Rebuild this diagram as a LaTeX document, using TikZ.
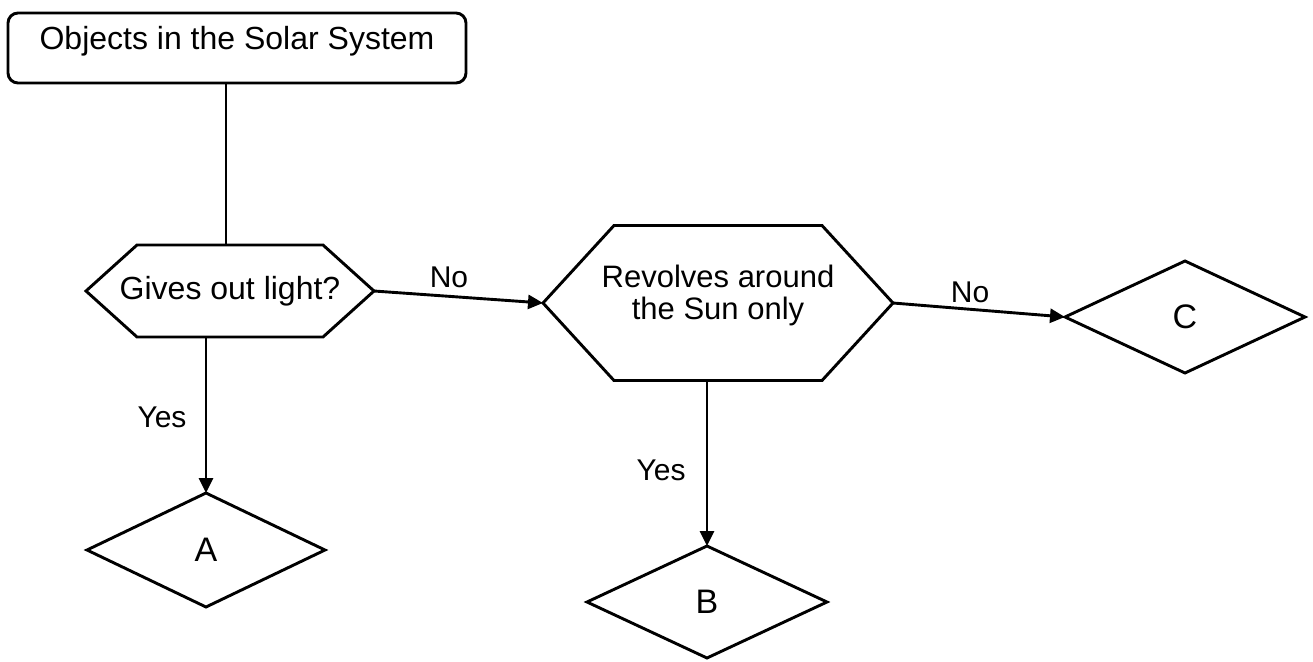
\documentclass[tikz,border=0pt]{standalone}
\usepackage{fontspec}
\setmainfont{Liberation Sans}
\usetikzlibrary{arrows.meta,shapes.geometric,calc}
\begin{document}
\begin{tikzpicture}[x=1pt,y=-1pt,
  every node/.style={inner sep=0pt, outer sep=0pt},
  outline/.style={draw=black, line width=2.9pt, line join=miter},
  titlebox/.style={outline, rectangle, rounded corners=10pt, minimum width=458pt, minimum height=70pt,
    font=\fontsize{32}{38}\selectfont, text height=23pt, text depth=20pt},
  hexbox/.style={rectangle, font=\fontsize{32}{38}\selectfont},
  leaf/.style={outline, diamond, font=\fontsize{34}{40}\selectfont},
  conn/.style={line width=2.9pt, -{Triangle[length=15pt,width=14pt]}},
  plainconn/.style={line width=2.9pt},
  lbl/.style={font=\fontsize{30}{36}\selectfont},
]
\fill[white] (0,0) rectangle (1313,661);
\useasboundingbox (0,0) rectangle (1313,661);

% nodes
\node[titlebox] (title) at (237,48) {Objects in the Solar System};
\node[hexbox, minimum width=288pt, minimum height=92pt] (g) at (230,291) {Gives out light?};
\node[hexbox, minimum width=350pt, minimum height=155pt, text height=45pt, text depth=45pt] (r) at (718,303)
  {\fontsize{31}{30}\selectfont\begin{tabular}{@{}c@{}}Revolves around\\the Sun only\end{tabular}};
\node[leaf, minimum width=238pt, minimum height=114pt] (a) at (206,550) {A};
\node[leaf, minimum width=240pt, minimum height=112pt] (b) at (707,602) {B};
\node[leaf, minimum width=240pt, minimum height=112pt] (c) at (1185,317) {C};

% hexagon outlines
\draw[outline] (g.west) -- ($(g.north west)+(51,0)$) -- ($(g.north east)+(-51,0)$) -- (g.east)
  -- ($(g.south east)+(-51,0)$) -- ($(g.south west)+(51,0)$) -- cycle;
\draw[outline] (r.west) -- ($(r.north west)+(71,0)$) -- ($(r.north east)+(-71,0)$) -- (r.east)
  -- ($(r.south east)+(-71,0)$) -- ($(r.south west)+(71,0)$) -- cycle;

% connectors
\draw[plainconn] ($(title.south -| g.north)+(-4,0)$) -- ($(g.north)+(-4,0)$);
\draw[conn] (g.east) -- (r.west);
\draw[conn] (r.east) -- (c.west);
\draw[conn] (a.north |- g.south) -- (a.north);
\draw[conn] (b.north |- r.south) -- (b.north);

% labels
\node[lbl] (no1) at (449,277) {No};
\node[lbl] (no2) at (970,292) {No};
\node[lbl] (yes1) at (162,417) {Yes};
\node[lbl] (yes2) at (661,470) {Yes};
\end{tikzpicture}
\end{document}
